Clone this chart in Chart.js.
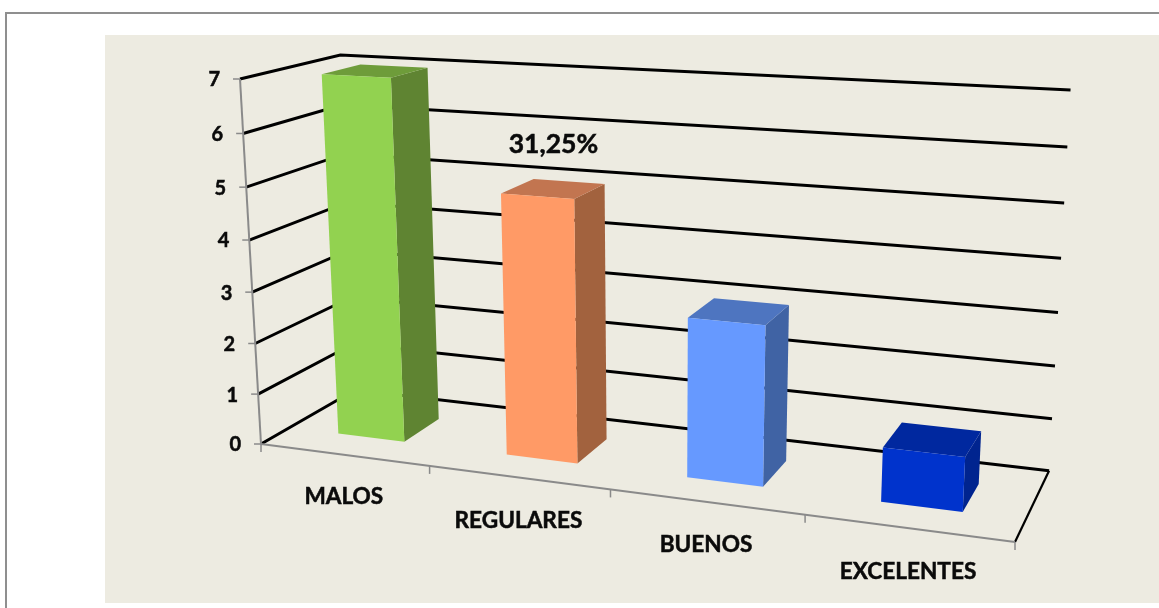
<!DOCTYPE html>
<html><head><meta charset="utf-8">
<style>
html,body{margin:0;padding:0;background:#fff;overflow:hidden}
#wrap{position:relative;width:1159px;height:608px}
#border{position:absolute;left:5px;top:12px;width:1154px;height:596px;border-left:2px solid #8f8f8f;border-top:2px solid #8f8f8f;box-sizing:border-box}
#panel{position:absolute;left:105px;top:35px;width:1054px;height:568px;background:#EDEBE1}
canvas{position:absolute;left:0;top:0}
</style></head><body>
<div id="wrap"><div id="border"></div><div id="panel"></div><canvas id="c" width="1159" height="608"></canvas></div>
<script src="https://cdn.jsdelivr.net/npm/chart.js@4"></script>
<script>
const categories = ['MALOS','REGULARES','BUENOS','EXCELENTES'];
const values = [7,5,3,1];
const dataLabels = ['', '31,25%', '', ''];
const frontColors = ['#92D250','#FF9A66','#6699FF','#0033CC'];
const sideColors = ['#5F8432','#A2623E','#4063A4','#00248F'];
const topColors = ['#6E9C3A','#C27550','#4E75C0','#00289F'];
const yMax = 7;
const yStep = 1;

// 3D perspective camera fitted to the picture: (u along categories, v up the value axis, d into depth)
const O=[261,444], U=[1015,542], V=[240,79], D=[355,390];
const wu=-0.136, wv=-0.05, wd=0.093;
const depthNear=0.29, depthFar=0.69;
function P(u,v,d){
  const den=1+wu*u+wv*v+wd*d;
  const f=i=>(O[i]+((1+wu)*U[i]-O[i])*u+((1+wv)*V[i]-O[i])*v+((1+wd)*D[i]-O[i])*d)/den;
  return [f(0),f(1)];
}
function poly(ctx,pts,fill){
  ctx.beginPath();pts.forEach((p,i)=>i?ctx.lineTo(p[0],p[1]):ctx.moveTo(p[0],p[1]));ctx.closePath();
  ctx.fillStyle=fill;ctx.fill();
}
function line(ctx,pts,color,w){
  ctx.beginPath();pts.forEach((p,i)=>i?ctx.lineTo(p[0],p[1]):ctx.moveTo(p[0],p[1]));
  ctx.strokeStyle=color;ctx.lineWidth=w;ctx.lineJoin='miter';ctx.stroke();
}
function boldText(ctx,s,x,y){
  ctx.lineWidth=0.5;ctx.strokeStyle='#0a0a0a';ctx.strokeText(s,x,y);ctx.fillText(s,x,y);
}
const normU=(c,x)=>(x-c.scales.x.left)/c.scales.x.width;
const normV=(c,y)=>(c.scales.y.bottom-y)/c.scales.y.height;

class Bar3D extends Chart.BarController{
  draw(){
    const chart=this.chart,ctx=chart.ctx,meta=this.getMeta();
    ctx.save();
    meta.data.forEach((el,i)=>{
      const u0=normU(chart,el.x-el.width/2),u1=normU(chart,el.x+el.width/2);
      const v0=normV(chart,el.base),v1=normV(chart,el.y);
      const a=depthNear,b=depthFar;
      poly(ctx,[P(u1,v0,a),P(u1,v0,b),P(u1,v1,b),P(u1,v1,a)],sideColors[i]);
      poly(ctx,[P(u0,v1,a),P(u1,v1,a),P(u1,v1,b),P(u0,v1,b)],topColors[i]);
      poly(ctx,[P(u0,v0,a),P(u1,v0,a),P(u1,v1,a),P(u0,v1,a)],el.options.backgroundColor);
    });
    ctx.restore();
  }
}
Bar3D.id='bar3d';
Bar3D.defaults=Chart.BarController.defaults;
Chart.register(Bar3D);

const walls={
  id:'walls',
  beforeDatasetsDraw(chart){
    const ctx=chart.ctx,ys=chart.scales.y;
    ctx.save();
    ys.ticks.forEach(t=>{
      const v=normV(chart,ys.getPixelForValue(t.value));
      line(ctx,[P(0,v,0),P(0,v,1),P(1,v,1)],'#000',3);
    });
    line(ctx,[P(1,0,1),P(1,0,0)],'#000',2.2);
    line(ctx,[P(0,0,0),P(0,1,0)],'#8a8a8a',2);
    line(ctx,[P(0,0,0),P(1,0,0)],'#8a8a8a',2);
    ys.ticks.forEach(t=>{
      const v=normV(chart,ys.getPixelForValue(t.value));
      const p=P(0,v,0);
      line(ctx,[[p[0]-7,p[1]],p],'#8a8a8a',1.5);
    });
    for(let k=0;k<=categories.length;k++){
      const p=P(k/categories.length,0,0);
      line(ctx,[p,[p[0],p[1]+8]],'#8a8a8a',1.5);
    }
    ctx.restore();
  },
  afterDatasetsDraw(chart){
    const ctx=chart.ctx,ys=chart.scales.y,xs=chart.scales.x;
    ctx.save();
    ctx.fillStyle='#0a0a0a';
    ctx.textBaseline='middle';
    ctx.font='bold 20px Lato';
    ctx.textAlign='right';
    ys.ticks.forEach(t=>{
      const v=normV(chart,ys.getPixelForValue(t.value));
      const p=P(0,v,0);
      boldText(ctx,String(t.value),p[0]-20,p[1]+1);
    });
    ctx.textAlign='center';
    ctx.font='bold 22.6px Lato';
    categories.forEach((c,i)=>{
      const u=normU(chart,xs.getPixelForValue(i));
      const p=P(u,0,0);
      boldText(ctx,c,p[0],p[1]+42+2*u);
    });
    ctx.font='bold 26.5px Lato';
    chart.getDatasetMeta(0).data.forEach((el,i)=>{
      if(!dataLabels[i])return;
      const p=P(normU(chart,el.x),normV(chart,el.y),(depthNear+depthFar)/2);
      boldText(ctx,dataLabels[i],p[0],p[1]-44);
    });
    ctx.restore();
  }
};

new Chart(document.getElementById('c'),{
  type:'bar3d',
  data:{labels:categories,datasets:[{data:values,backgroundColor:frontColors,barPercentage:0.4,categoryPercentage:1}]},
  options:{
    responsive:false,animation:false,
    plugins:{legend:{display:false},title:{display:false},tooltip:{enabled:false}},
    scales:{
      x:{type:'category',offset:true,grid:{display:false},border:{display:false},ticks:{display:false}},
      y:{type:'linear',min:0,max:yMax,ticks:{stepSize:yStep,display:false},grid:{display:false},border:{display:false}}
    }
  },
  plugins:[walls]
});
</script>
</body></html>
